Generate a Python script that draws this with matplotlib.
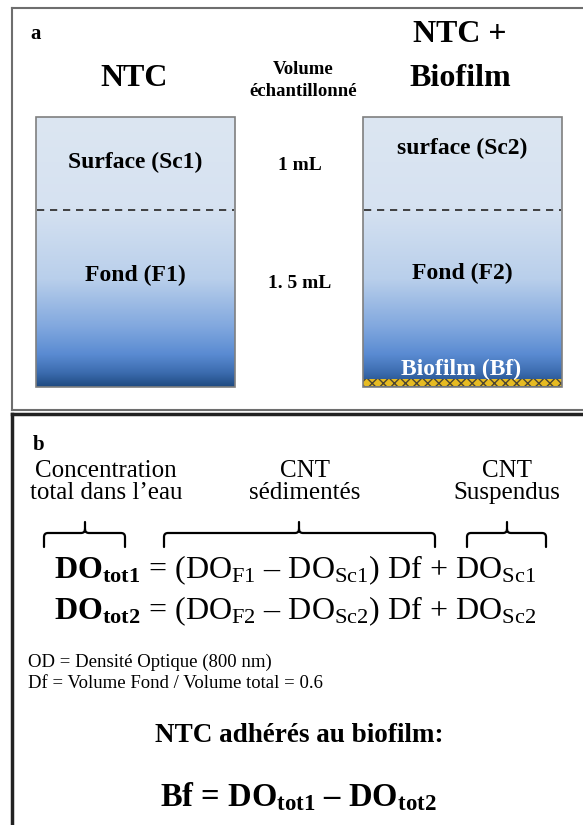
import numpy as np
import matplotlib
matplotlib.use("Agg")
import matplotlib.pyplot as plt
from matplotlib.colors import LinearSegmentedColormap
from matplotlib.patches import Rectangle, PathPatch
from matplotlib.path import Path

plt.rcParams['font.family'] = ['Liberation Serif', 'DejaVu Serif']
plt.rcParams['mathtext.fontset'] = 'custom'
plt.rcParams['mathtext.rm'] = 'Liberation Serif'
plt.rcParams['mathtext.bf'] = 'Liberation Serif:bold'
plt.rcParams['mathtext.it'] = 'Liberation Serif:italic'

DASH = "\u2013"

# texts of panel a
col_titles = ["NTC", "NTC +", "Biofilm"]
volume_title = ["Volume", "\u00e9chantillonn\u00e9"]
top_labels = ["Surface (Sc1)", "surface (Sc2)"]
bottom_labels = ["Fond (F1)", "Fond (F2)"]
volumes = ["1 mL", "1. 5 mL"]
biofilm_label = "Biofilm (Bf)"

# texts of panel b
brace_titles = ["Concentration\ntotal dans l\u2019eau", "CNT\ns\u00e9diment\u00e9s", "CNT\nSuspendus"]
equations = [
    r"$\mathbf{DO}_{\mathbf{tot1}}$ = (DO$_{\mathrm{F1}}$ " + DASH + r" DO$_{\mathrm{Sc1}}$) Df + DO$_{\mathrm{Sc1}}$",
    r"$\mathbf{DO}_{\mathbf{tot2}}$ = (DO$_{\mathrm{F2}}$ " + DASH + r" DO$_{\mathrm{Sc2}}$) Df + DO$_{\mathrm{Sc2}}$",
]
notes = ["OD = Densit\u00e9 Optique (800 nm)", "Df = Volume Fond / Volume total = 0.6"]
adh_title = "NTC adh\u00e9r\u00e9s au biofilm:"
bf_eq = r"Bf = $\mathbf{DO}_{\mathbf{tot1}}$ " + DASH + r" $\mathbf{DO}_{\mathbf{tot2}}$"

fig = plt.figure(figsize=(5.83, 8.25), dpi=100)
ax = fig.add_axes([0, 0, 1, 1])

# ---- panel a frame
ax.plot([12, 583], [8, 8], color='#6e6e6e', lw=1.5)
ax.plot([12, 12], [8, 410], color='#6e6e6e', lw=1.5)
ax.plot([12, 583], [410, 410], color='#6e6e6e', lw=1.5)
ax.text(30, 34, "a", fontsize=15, fontweight='bold', ha='left', va='center')

# tubes with gradient
cmap = LinearSegmentedColormap.from_list("water", [
    (0.0, '#dce6f2'), (0.33, '#d6e2f1'), (0.6, '#b9cfeb'),
    (0.78, '#80a7de'), (0.88, '#5a8bd2'), (0.95, '#3b6bae'), (1.0, '#1f4a80')])
grad = np.linspace(0, 1, 256).reshape(-1, 1)
tube_x = [36, 363]
tube_w = 199
top, bot = 117, 387
for i, x0 in enumerate(tube_x):
    ax.imshow(grad, cmap=cmap, extent=(x0, x0 + tube_w, bot, top), origin='upper',
              aspect='auto', zorder=1)
    ax.add_patch(Rectangle((x0, top), tube_w, bot - top, fill=False,
                           edgecolor='#7f7f7f', lw=1.2, zorder=3))
    ax.plot([x0 + 1, x0 + tube_w - 1], [209.5, 209.5], color='#333333', lw=1.3,
            linestyle=(0, (4, 3.2)), zorder=3)
    cx = x0 + tube_w / 2
    ax.text(cx, [162, 148][i], top_labels[i], fontsize=17, fontweight='bold',
            ha='center', va='center', zorder=4)
    ax.text(cx, [275, 273][i], bottom_labels[i], fontsize=17, fontweight='bold',
            ha='center', va='center', zorder=4)

# biofilm layer
ax.add_patch(Rectangle((363, 379), tube_w, 7, facecolor='#e6bb22', edgecolor='#4d4630',
                       hatch='xxx', lw=0, zorder=2))
ax.text(461, 369, biofilm_label, fontsize=17, fontweight='bold', color='white',
        ha='center', va='center', zorder=4)

ax.text(134, 79, col_titles[0], fontsize=23, fontweight='bold', ha='center', va='center')
ax.text(460, 35, col_titles[1], fontsize=23, fontweight='bold', ha='center', va='center')
ax.text(460, 79, col_titles[2], fontsize=23, fontweight='bold', ha='center', va='center')
ax.text(303, 69, volume_title[0], fontsize=13.5, fontweight='bold', ha='center', va='center')
ax.text(303, 91, volume_title[1], fontsize=13.5, fontweight='bold', ha='center', va='center')
ax.text(300, 165, volumes[0], fontsize=14, fontweight='bold', ha='center', va='center')
ax.text(300, 284, volumes[1], fontsize=14, fontweight='bold', ha='center', va='center')

# ---- panel b frame
ax.plot([11.5, 583], [414, 414], color='#222222', lw=2.5)
ax.plot([11.5, 11.5], [414, 825], color='#222222', lw=2.5)
ax.text(33, 445, "b", fontsize=15, fontweight='bold', ha='left', va='center')

brace_mid = [85, 299, 507]
brace_lo = [44, 164, 467]
brace_hi = [125, 435, 546]
title_x = [106, 305, 507]
for i in range(3):
    ax.text(title_x[i], 482, brace_titles[i], fontsize=18, ha='center', va='center',
            linespacing=1.05)
    x0, xm, x1 = brace_lo[i], brace_mid[i], brace_hi[i]
    yl, ye, yt, r = 533, 547, 522, 4
    verts = [(x0, ye), (x0, yl + r), (x0, yl), (x0 + r, yl), (xm - r, yl), (xm, yl),
             (xm, yl - r), (xm, yt),
             (xm, yl - r), (xm, yl), (xm + r, yl), (x1 - r, yl), (x1, yl), (x1, yl + r),
             (x1, ye)]
    codes = [Path.MOVETO, Path.LINETO, Path.CURVE3, Path.CURVE3, Path.LINETO, Path.CURVE3,
             Path.CURVE3, Path.LINETO,
             Path.MOVETO, Path.CURVE3, Path.CURVE3, Path.LINETO, Path.CURVE3, Path.CURVE3,
             Path.LINETO]
    ax.add_patch(PathPatch(Path(verts, codes), fill=False, edgecolor='black', lw=1.6,
                           capstyle='round'))

ax.text(54, 578, equations[0], fontsize=23, ha='left', va='baseline')
ax.text(54, 619, equations[1], fontsize=23, ha='left', va='baseline')

ax.text(28, 662, notes[0], fontsize=13.5, ha='left', va='center')
ax.text(28, 684, notes[1], fontsize=13.5, ha='left', va='center')

ax.text(299, 735, adh_title, fontsize=19.5, fontweight='bold', ha='center', va='center')
ax.text(298, 797, bf_eq, fontsize=23.5, fontweight='bold', ha='center', va='center')

ax.set_xlim(0, 583)
ax.set_ylim(825, 0)
ax.axis('off')

fig.savefig("out.png", dpi=100)
